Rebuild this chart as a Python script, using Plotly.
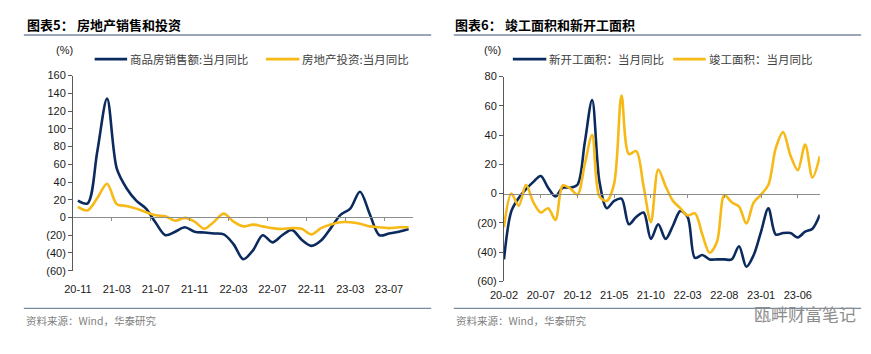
import plotly.graph_objects as go

W, H = 871, 354

# ---------------- Left panel data (图表5) ----------------
left_months = ["20-11", "20-12",
               "21-01", "21-02", "21-03", "21-04", "21-05", "21-06",
               "21-07", "21-08", "21-09", "21-10", "21-11", "21-12",
               "22-01", "22-02", "22-03", "22-04", "22-05", "22-06",
               "22-07", "22-08", "22-09", "22-10", "22-11", "22-12",
               "23-01", "23-02", "23-03", "23-04", "23-05", "23-06",
               "23-07", "23-08", "23-09"]
sales_yoy = [19, 16, 75, 134, 55, 33, 19, 10, -6, -20, -16, -11, -16, -17,
             -18, -19, -30, -47, -37, -20, -28, -20, -14, -25, -32, -26,
             -12, 3, 10, 29, 4, -20, -18, -16, -13]
invest_yoy = [12, 8, 22, 38, 15, 13, 10, 6, 2.5, 1.4, -3.6, -0.4, -4.7, -12.7,
              -4.7, 4.3, -4.7, -10, -8, -10, -12, -13, -12, -12.7, -19, -12,
              -8, -5.4, -5.4, -7, -10, -11, -12, -11, -11]
left_tick_labels = ["20-11", "21-03", "21-07", "21-11", "22-03",
                    "22-07", "22-11", "23-03", "23-07"]
left_y_vals = [-60, -40, -20, 0, 20, 40, 60, 80, 100, 120, 140, 160]
left_y_text = ["(60)", "(40)", "(20)", "0", "20", "40", "60", "80",
               "100", "120", "140", "160"]

# ---------------- Right panel data (图表6) ----------------
right_months = ["20-02", "20-03", "20-04", "20-05", "20-06", "20-07",
                "20-08", "20-09", "20-10", "20-11", "20-12",
                "21-01", "21-02", "21-03", "21-04", "21-05", "21-06",
                "21-07", "21-08", "21-09", "21-10", "21-11", "21-12",
                "22-01", "22-02", "22-03", "22-04", "22-05", "22-06",
                "22-07", "22-08", "22-09", "22-10", "22-11", "22-12",
                "23-01", "23-02", "23-03", "23-04", "23-05", "23-06",
                "23-07", "23-08", "23-09"]
new_starts_yoy = [-45, -12, -3, 3, 8, 12, 4, -2, 4, 4, 6, 35, 64, 8, -10, -5,
                  -3.5, -21, -16, -13, -31, -21, -31, -22, -12, -16, -44, -42,
                  -45, -45, -45, -45, -36, -50, -42, -26, -10, -28, -27, -27,
                  -30, -26, -24, -14.5]
completions_yoy = [-23, 0, -8.4, 6, -6, -13, -10, -18, 5.5, 3.5, -0.7, 20, 40,
                   -2, -5, 7, 67, 27, 29, 5, -19.5, 16.5, 5, -5, -10, -15,
                   -13.5, -28, -40.5, -33, -1, -6, -9, -20.5, -6, -0.7, 6, 31,
                   42, 26, 16, 33.5, 11, 25.5]
right_tick_labels = ["20-02", "20-07", "20-12", "21-05", "21-10",
                     "22-03", "22-08", "23-01", "23-06"]
right_y_vals = [-60, -40, -20, 0, 20, 40, 60, 80]
right_y_text = ["(60)", "(40)", "(20)", "0", "20", "40", "60", "80"]

# ---------------- Styling ----------------
NAVY = "#0b2a5e"
GOLD = "#f7b916"
AXIS = "#595959"
ZERO = "#8c8c8c"
RULE = "#7a8aa0"
TICKFONT = dict(family="Liberation Sans, Arial", size=11, color="#1a1a1a")
CJK = "Noto Sans CJK SC"


def fx(p):
    return p / W


def fy(p):
    return 1 - p / H


L_XD = [fx(60), fx(406)]
L_YD = [fy(274), fy(72)]
L_YR = [-60, 160]
R_XD = [fx(498), fx(819)]
R_YD = [fy(285), fy(73)]
R_YR = [-60, 80]

l_zero = L_YD[0] + (0 - L_YR[0]) / (L_YR[1] - L_YR[0]) * (L_YD[1] - L_YD[0])
r_zero = R_YD[0] + (0 - R_YR[0]) / (R_YR[1] - R_YR[0]) * (R_YD[1] - R_YD[0])

nL = len(left_months)
nR = len(right_months)

fig = go.Figure()
line_common = dict(shape="spline", smoothing=0.9, width=2.6)

fig.add_trace(go.Scatter(x=left_months, y=sales_yoy, mode="lines",
                         name="商品房销售额:当月同比",
                         line=dict(color=NAVY, **line_common),
                         xaxis="x", yaxis="y", showlegend=False))
fig.add_trace(go.Scatter(x=left_months, y=invest_yoy, mode="lines",
                         name="房地产投资:当月同比",
                         line=dict(color=GOLD, **line_common),
                         xaxis="x", yaxis="y", showlegend=False))
fig.add_trace(go.Scatter(x=right_months, y=new_starts_yoy, mode="lines",
                         name="新开工面积：当月同比",
                         line=dict(color=NAVY, **line_common),
                         xaxis="x3", yaxis="y3", showlegend=False))
fig.add_trace(go.Scatter(x=right_months, y=completions_yoy, mode="lines",
                         name="竣工面积：当月同比",
                         line=dict(color=GOLD, **line_common),
                         xaxis="x3", yaxis="y3", showlegend=False))
# empty traces so the zero-line axes are instantiated
fig.add_trace(go.Scatter(x=[None], y=[None], xaxis="x2", yaxis="y",
                         showlegend=False, hoverinfo="skip"))
fig.add_trace(go.Scatter(x=[None], y=[None], xaxis="x4", yaxis="y3",
                         showlegend=False, hoverinfo="skip"))

fig.update_layout(
    width=W, height=H, margin=dict(l=0, r=0, t=0, b=0),
    paper_bgcolor="white", plot_bgcolor="white",
    showlegend=False,
    xaxis=dict(domain=L_XD, type="category", range=[-0.5, nL - 0.5],
               tickmode="array", tickvals=left_tick_labels,
               ticktext=left_tick_labels, ticks="", showline=False,
               showgrid=False, zeroline=False, tickfont=TICKFONT,
               ticklabelstandoff=10, anchor="y"),
    yaxis=dict(domain=L_YD, range=L_YR, tickmode="array",
               tickvals=left_y_vals, ticktext=left_y_text,
               ticks="outside", ticklen=4, tickcolor=AXIS, showline=True,
               linecolor=AXIS, linewidth=1, showgrid=False, zeroline=False,
               tickfont=TICKFONT, anchor="x"),
    xaxis2=dict(domain=L_XD, overlaying="x", anchor="free", position=l_zero,
                range=[-0.5, nL - 0.5], type="linear", tickmode="array",
                tickvals=[3.5 + 4 * k for k in range(8)], ticks="outside",
                ticklen=3, tickcolor=ZERO, showline=True, linecolor=ZERO,
                linewidth=1, showticklabels=False, showgrid=False,
                zeroline=False),
    xaxis3=dict(domain=R_XD, type="category", range=[0, nR - 1],
                tickmode="array", tickvals=right_tick_labels,
                ticktext=right_tick_labels, ticks="", showline=False,
                showgrid=False, zeroline=False, tickfont=TICKFONT,
                ticklabelstandoff=6, anchor="y3"),
    yaxis3=dict(domain=R_YD, range=R_YR, tickmode="array",
                tickvals=right_y_vals, ticktext=right_y_text,
                ticks="outside", ticklen=4, tickcolor=AXIS, showline=True,
                linecolor=AXIS, linewidth=1, showgrid=False, zeroline=False,
                tickfont=TICKFONT, anchor="x3"),
    xaxis4=dict(domain=R_XD, overlaying="x3", anchor="free", position=r_zero,
                range=[0, nR - 1], type="linear", tickmode="array",
                tickvals=[5 * k for k in range(1, 9)], ticks="outside",
                ticklen=3, tickcolor=ZERO, showline=True, linecolor=ZERO,
                linewidth=1, showticklabels=False, showgrid=False,
                zeroline=False),
)

ann = []
shapes = []


def text(x, y, s, size, color="#000", family=CJK, anchor="left"):
    ann.append(dict(x=fx(x), y=fy(y), xref="paper", yref="paper", text=s,
                    showarrow=False, xanchor=anchor, yanchor="middle",
                    font=dict(family=family, size=size, color=color)))


def hline(x0, x1, y, color, width):
    shapes.append(dict(type="line", xref="paper", yref="paper",
                       x0=fx(x0), x1=fx(x1), y0=fy(y), y1=fy(y),
                       line=dict(color=color, width=width)))


# Titles
text(11, 19, "<b>图表5：</b>", 13)
text(62, 19, "<b>房地产销售和投资</b>", 13)
text(446, 19, "<b>图表6：</b>", 13)
text(497, 19, "<b>竣工面积和新开工面积</b>", 13)
hline(10, 424, 30, RULE, 1.3)
hline(447, 861, 30, RULE, 1.3)

# Unit labels
text(41, 46, "(%)", 11, "#1a1a1a", "Liberation Sans, Arial")
text(476, 46, "(%)", 11, "#1a1a1a", "Liberation Sans, Arial")

# Legends (left)
hline(82, 115, 55, NAVY, 2.6)
text(116, 55, "商品房销售额:当月同比", 11.5, "#404040")
hline(256, 290, 55, GOLD, 2.6)
text(291, 55, "房地产投资:当月同比", 11.5, "#404040")
# Legends (right)
hline(507, 541, 55, NAVY, 2.6)
text(542, 55, "新开工面积：当月同比", 11.5, "#404040")
hline(670, 703, 55, GOLD, 2.6)
text(704, 55, "竣工面积：当月同比", 11.5, "#404040")

# Footers
hline(10, 424, 313, RULE, 1.3)
hline(447, 861, 313, RULE, 1.3)
text(10, 326, "资料来源：Wind，华泰研究", 10.5, "#808080")
text(447, 326, "资料来源：Wind，华泰研究", 10.5, "#808080")

# Watermark
text(750, 318, "瓯畔财富笔记", 17, "#8c8c8c")

fig.update_layout(annotations=ann, shapes=shapes)
fig.write_html("out.html")
